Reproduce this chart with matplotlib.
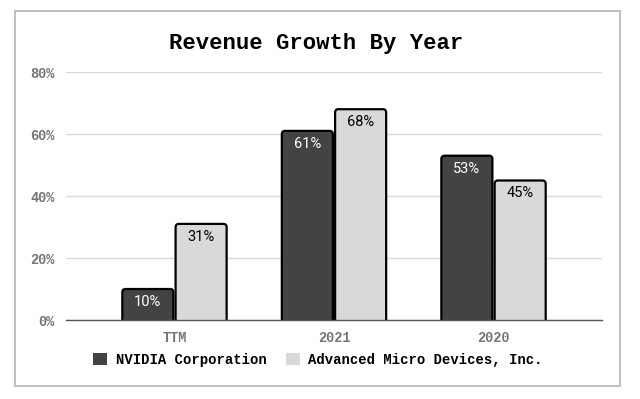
import matplotlib
matplotlib.use("Agg")
import matplotlib.pyplot as plt
from matplotlib.patches import FancyBboxPatch, Rectangle, Patch
import numpy as np

# data
categories = ["TTM", "2021", "2020"]
nvidia = [10, 61, 53]
amd = [31, 68, 45]
series_names = ["NVIDIA Corporation", "Advanced Micro Devices, Inc."]
yticks = [0, 20, 40, 60, 80]

dark = "#434343"
light = "#d9d9d9"
mono = "Liberation Mono"

fig = plt.figure(figsize=(6.4, 3.99), dpi=100)
ax = fig.add_axes([66 / 640, 1 - 320 / 399, 536 / 640, 248 / 399])

# outer frame
fig.patches.append(Rectangle((15 / 640, 1 - 386 / 399), 605 / 640, 375 / 399,
                             transform=fig.transFigure, fill=False,
                             edgecolor="#b5b5b5", lw=1.2))

x = np.arange(len(categories))
w = 0.32
gap = 0.007

bars1 = ax.bar(x - w / 2 - gap, nvidia, w, color=dark)
bars2 = ax.bar(x + w / 2 + gap, amd, w, color=light)

# swap in rounded bars
for bars, col, tcol in [(bars1, dark, "white"), (bars2, light, "black")]:
    for b in bars:
        x0, h, bw = b.get_x(), b.get_height(), b.get_width()
        b.set_visible(False)
        p = FancyBboxPatch((x0, -3), bw, h + 3,
                           boxstyle="round,pad=0,rounding_size=0.02",
                           mutation_aspect=55, facecolor=col,
                           edgecolor="black", lw=1.6, zorder=3)
        ax.add_patch(p)
        ax.text(x0 + bw / 2, h - 1.9, f"{h:.0f}%", ha="center", va="top",
                color=tcol, fontsize=10.5, family="Roboto", zorder=4)

ax.set_xlim(-0.68, 2.68)
ax.set_ylim(0, 80)
ax.set_yticks(yticks)
ax.set_yticklabels([f"{v}%" for v in yticks])
ax.set_xticks(x)
ax.set_xticklabels(categories)
ax.grid(axis="y", color="#d9d9d9", lw=1, zorder=0)
ax.set_axisbelow(True)
for s in ["top", "right", "left"]:
    ax.spines[s].set_visible(False)
ax.spines["bottom"].set_color("#555555")
ax.spines["bottom"].set_linewidth(1)
ax.spines["bottom"].set_zorder(5)
ax.tick_params(length=0, pad=8, colors="#757575")
for lab in ax.get_yticklabels() + ax.get_xticklabels():
    lab.set_family(mono)
    lab.set_fontweight("bold")
    lab.set_fontsize(9.8)

fig.text(316 / 640, 1 - 43 / 399, "Revenue Growth By Year", ha="center",
         va="center", family=mono, fontweight="bold", fontsize=16)

handles = [Patch(facecolor=dark), Patch(facecolor=light)]
fig.legend(handles, series_names, loc="center", ncol=2,
           bbox_to_anchor=(318 / 640, 1 - 360 / 399), frameon=False,
           prop={"family": mono, "weight": "bold", "size": 10},
           handlelength=1.0, handleheight=1.0, handletextpad=0.6,
           columnspacing=1.4)

fig.savefig("out.png", dpi=100, facecolor="white")
